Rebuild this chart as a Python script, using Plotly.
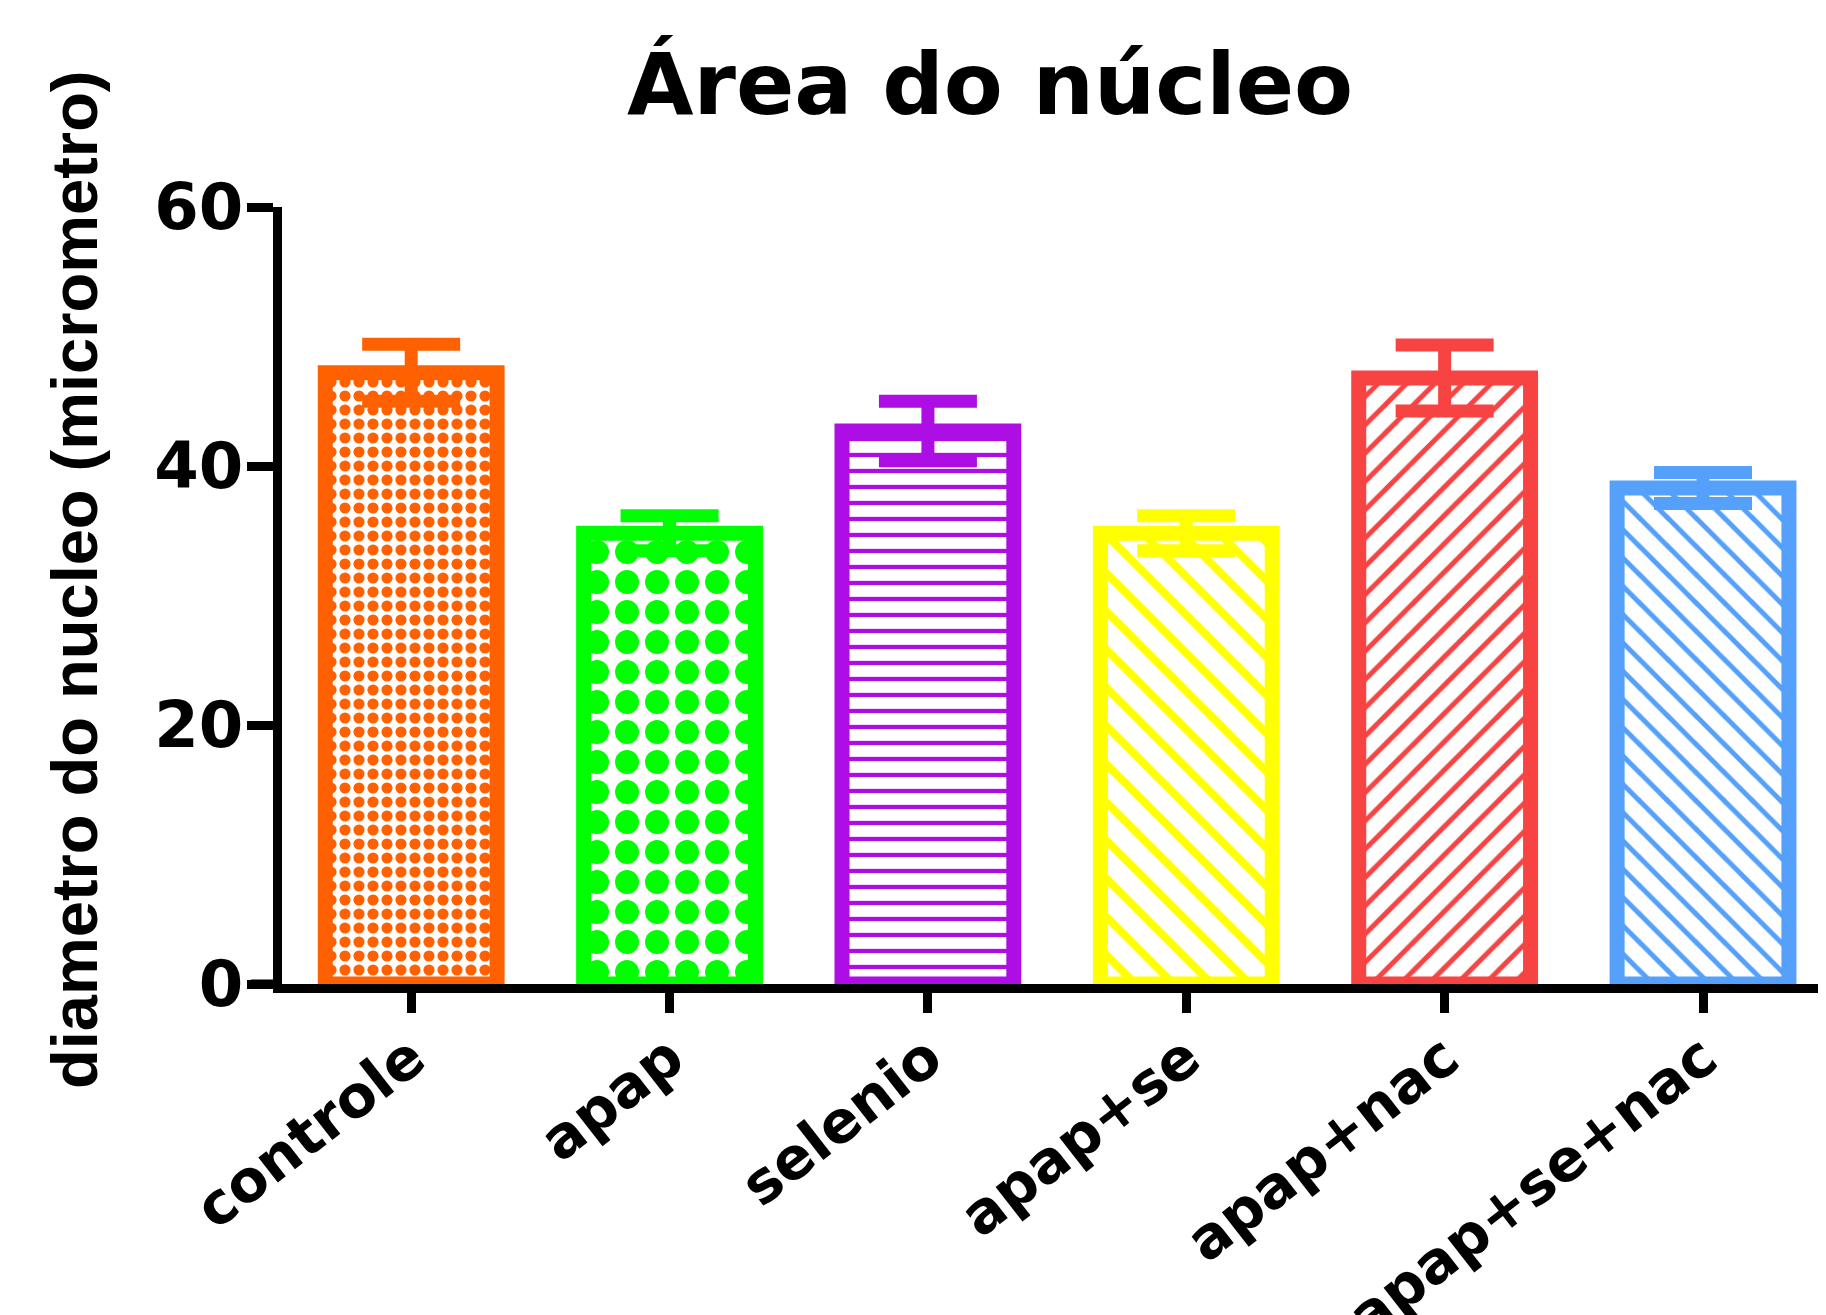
import plotly.graph_objects as go

# ---- data ----
categories = ["controle", "apap", "selenio", "apap+se", "apap+nac", "apap+se+nac"]
means = [47.2, 34.8, 42.7, 34.8, 46.8, 38.3]
errors = [2.2, 1.35, 2.3, 1.35, 2.55, 1.2]
y_ticks = [0, 20, 40, 60]

title_text = "Área do núcleo"
y_title = "diametro do nucleo (micrometro)"

# ---- styles ----
colors = ["#FF6000", "#00FF00", "#AD0EE4", "#FFFF00", "#F84343", "#55A0FA"]
shapes = [".", ".", "-", "\\", "/", "\\"]
psizes = [14, 30, 16, 27, 20, 20]
solid = [0.5, 0.5, 0.27, 0.3, 0.25, 0.25]

fig = go.Figure()
for i, cat in enumerate(categories):
    fig.add_trace(go.Bar(
        x=[cat], y=[means[i]],
        width=0.665,
        marker=dict(
            color=colors[i],
            line=dict(color=colors[i], width=15),
            pattern=dict(shape=shapes[i], fgcolor=colors[i], bgcolor="white",
                         size=psizes[i], solidity=solid[i], fillmode="replace"),
        ),
        error_y=dict(type="data", array=[errors[i]], visible=True,
                     color=colors[i], thickness=13, width=49),
        showlegend=False,
    ))

# the page body adds an 8px offset, margins compensate for it
W, H = 1826, 1315
L, R, T, B = 274, 8, 199, 339
pw = W - L - R
ph = H - T - B

fig.update_layout(
    width=W, height=H,
    margin=dict(l=L, r=R, t=T, b=B, pad=0),
    plot_bgcolor="white", paper_bgcolor="white",
    barmode="overlay",
    xaxis=dict(
        type="category", categoryorder="array", categoryarray=categories,
        range=[-0.5, 5.476], automargin=False,
        showline=True, linecolor="black", linewidth=9,
        ticks="outside", ticklen=20, tickwidth=9, tickcolor="black",
        tickangle=-38, ticklabelstandoff=-12,
        tickfont=dict(family="DejaVu Sans", size=58, color="black", weight="bold"),
        showgrid=False, zeroline=False,
    ),
    yaxis=dict(
        range=[0, 60], tickvals=y_ticks, automargin=False,
        showline=True, linecolor="black", linewidth=9,
        ticks="outside", ticklen=26, tickwidth=9, tickcolor="black",
        ticklabelstandoff=-9,
        tickfont=dict(family="DejaVu Sans", size=64, color="black", weight="bold"),
        showgrid=False, zeroline=False,
    ),
    shapes=[dict(type="line", xref="paper", yref="y", x0=-31 / pw, x1=0, y0=0, y1=0,
                 line=dict(color="black", width=9))],
    annotations=[
        dict(text=title_text, xref="paper", yref="paper",
             x=(982 - L) / pw, y=1 + (T - 76) / ph, xanchor="center", yanchor="middle",
             showarrow=False,
             font=dict(family="DejaVu Sans", size=86, color="black", weight="bold")),
        dict(text=y_title, xref="paper", yref="paper", textangle=-90,
             x=(67 - L) / pw, y=0.52, xanchor="center", yanchor="middle",
             showarrow=False,
             font=dict(family="Liberation Sans", size=65, color="black", weight="bold")),
    ],
)

fig.write_html("out.html")
